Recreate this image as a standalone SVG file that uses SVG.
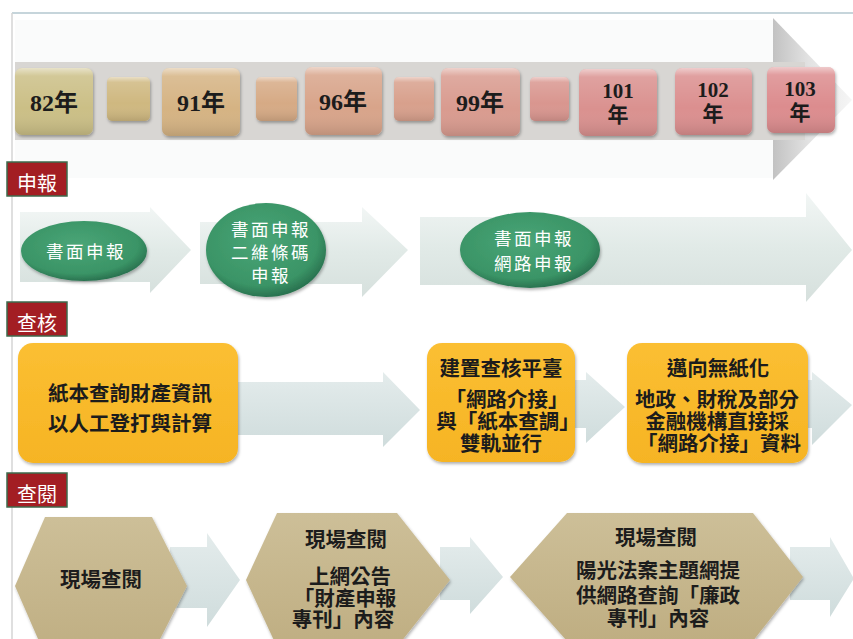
<svg xmlns="http://www.w3.org/2000/svg" width="853" height="639" viewBox="0 0 853 639">
<defs>
<style>
.yr{font-family:"Liberation Serif","Noto Sans CJK TC",serif;font-weight:bold;fill:#1c1c1c;text-anchor:middle}
.sect{font-family:"Noto Sans CJK TC","Noto Sans",sans-serif;font-size:20px;fill:#ffffff;text-anchor:middle}
.secbox{fill:#a31e23;stroke:#3d6b4c;stroke-width:1.5}
.et{font-family:"Noto Sans CJK TC",sans-serif;font-size:17.5px;letter-spacing:2.5px;fill:#ffffff;text-anchor:middle}
.bt{font-family:"Liberation Serif","Noto Sans CJK TC",serif;font-weight:bold;font-size:20.5px;fill:#1c1c1c;text-anchor:middle}
.gloss{fill:url(#gloss)}
.ybox{fill:url(#gy);filter:url(#sh)}
.hex{fill:url(#gh);filter:url(#sh)}
.ell{fill:url(#ge);filter:url(#sh)}
.a2{fill:url(#ga2)}
.a3{fill:url(#ga3)}
</style>
<linearGradient id="gloss" x1="0" y1="0" x2="0" y2="1">
<stop offset="0" stop-color="#ffffff" stop-opacity="0.55"/>
<stop offset="0.12" stop-color="#ffffff" stop-opacity="0.15"/>
<stop offset="0.6" stop-color="#ffffff" stop-opacity="0"/>
<stop offset="1" stop-color="#000000" stop-opacity="0.12"/>
</linearGradient>
<linearGradient id="gy" x1="0" y1="0" x2="0" y2="1">
<stop offset="0" stop-color="#fbbf32"/>
<stop offset="1" stop-color="#f6b424"/>
</linearGradient>
<linearGradient id="gh" x1="0" y1="0" x2="0" y2="1">
<stop offset="0" stop-color="#cdbf98"/>
<stop offset="1" stop-color="#bfae82"/>
</linearGradient>
<radialGradient id="ge" cx="0.45" cy="0.4" r="0.6">
<stop offset="0" stop-color="#4aa577"/>
<stop offset="0.8" stop-color="#3a9466"/>
<stop offset="1" stop-color="#2a7350"/>
</radialGradient>
<linearGradient id="ghead" x1="0" y1="0" x2="1" y2="0">
<stop offset="0" stop-color="#c2c2c2"/>
<stop offset="0.45" stop-color="#e2e2e2"/>
<stop offset="1" stop-color="#f6f6f6"/>
</linearGradient>
<linearGradient id="ga2" x1="0" y1="0" x2="0" y2="1">
<stop offset="0" stop-color="#f2f6f5"/>
<stop offset="0.5" stop-color="#e1eae7"/>
<stop offset="1" stop-color="#d6e0dd"/>
</linearGradient>
<linearGradient id="ga3" x1="0" y1="0" x2="0" y2="1">
<stop offset="0" stop-color="#e4ecec"/>
<stop offset="1" stop-color="#cfdcdc"/>
</linearGradient>
<filter id="sh" x="-10%" y="-10%" width="125%" height="130%">
<feDropShadow dx="1" dy="2" stdDeviation="1.5" flood-color="#000" flood-opacity="0.3"/>
</filter>
</defs>

<rect x="0" y="0" width="853" height="639" fill="#ffffff"/>
<line x1="12" y1="13" x2="853" y2="13" stroke="#c6d5db" stroke-width="2"/>
<line x1="12" y1="13" x2="12" y2="639" stroke="#d4d4d4" stroke-width="1.5"/>

<g id="timeline">
<rect x="15" y="20" width="758" height="158" fill="#fafbfb"/>
<polygon points="773,18 852,100 773,180" fill="url(#ghead)"/>
<rect x="15" y="62" width="790" height="78" fill="#d8d6d3"/>
</g>

<g id="y82"><rect x="15" y="68" width="78" height="67" rx="7" fill="#cbbf86" filter="url(#sh)"/><rect x="15" y="68" width="78" height="67" rx="7" class="gloss"/><text class="yr" x="54" y="111" font-size="24">82年</text></g>
<g id="s1"><rect x="107" y="77" width="43" height="44" rx="5" fill="#cfb880" filter="url(#sh)"/><rect x="107" y="77" width="43" height="44" rx="5" class="gloss"/></g>
<g id="y91"><rect x="162" y="68" width="78" height="68" rx="7" fill="#d5b383" filter="url(#sh)"/><rect x="162" y="68" width="78" height="68" rx="7" class="gloss"/><text class="yr" x="201" y="111" font-size="24">91年</text></g>
<g id="s2"><rect x="256" y="77" width="41" height="44" rx="5" fill="#d6aa85" filter="url(#sh)"/><rect x="256" y="77" width="41" height="44" rx="5" class="gloss"/></g>
<g id="y96"><rect x="305" y="67" width="77" height="68" rx="7" fill="#d8a48a" filter="url(#sh)"/><rect x="305" y="67" width="77" height="68" rx="7" class="gloss"/><text class="yr" x="343" y="110" font-size="24">96年</text></g>
<g id="s3"><rect x="394" y="77" width="40" height="44" rx="5" fill="#d8a08c" filter="url(#sh)"/><rect x="394" y="77" width="40" height="44" rx="5" class="gloss"/></g>
<g id="y99"><rect x="441" y="68" width="79" height="68" rx="7" fill="#d99b8f" filter="url(#sh)"/><rect x="441" y="68" width="79" height="68" rx="7" class="gloss"/><text class="yr" x="480" y="111" font-size="24">99年</text></g>
<g id="s4"><rect x="530" y="77" width="39" height="44" rx="5" fill="#d9968f" filter="url(#sh)"/><rect x="530" y="77" width="39" height="44" rx="5" class="gloss"/></g>
<g id="y101"><rect x="579" y="69" width="78" height="67" rx="7" fill="#da918f" filter="url(#sh)"/><rect x="579" y="69" width="78" height="67" rx="7" class="gloss"/><text class="yr" x="618" y="98" font-size="21">101</text><text class="yr" x="618" y="122" font-size="21">年</text></g>
<g id="y102"><rect x="675" y="68" width="77" height="67" rx="7" fill="#db8f8f" filter="url(#sh)"/><rect x="675" y="68" width="77" height="67" rx="7" class="gloss"/><text class="yr" x="713" y="97" font-size="21">102</text><text class="yr" x="713" y="121" font-size="21">年</text></g>
<g id="y103"><rect x="767" y="67" width="68" height="66" rx="7" fill="#dc8c8e" filter="url(#sh)"/><rect x="767" y="67" width="68" height="66" rx="7" class="gloss"/><text class="yr" x="800" y="96" font-size="21">103</text><text class="yr" x="800" y="120" font-size="21">年</text></g>

<g id="sec1"><rect class="secbox" x="7" y="162" width="60" height="34"/><text class="sect" x="37" y="191">申報</text></g>
<g id="sec2"><rect class="secbox" x="7" y="302" width="60" height="34"/><text class="sect" x="37" y="331">查核</text></g>
<g id="sec3"><rect class="secbox" x="7" y="473" width="60" height="34"/><text class="sect" x="37" y="502">查閱</text></g>

<g id="connectors">
<polygon class="a2" points="20,212 150,212 150,207 191,250 150,293 150,282 20,282"/>
<polygon class="a2" points="200,222 362,222 362,207 408,250 362,297 362,284 200,284"/>
<polygon class="a2" points="420,217 806,217 806,193 852,250 806,302 806,285 420,285"/>
<polygon class="a3" points="230,382 383,382 383,372 420,410 383,447 383,435 230,435"/>
<polygon class="a3" points="570,380 586,380 586,372 625,407 586,443 586,428 570,428"/>
<polygon class="a3" points="800,380 812,380 812,372 852,405 812,445 812,428 800,428"/>
<polygon class="a3" points="170,547 207,547 207,533 240,580 207,627 207,608 170,608"/>
<polygon class="a3" points="440,547 470,547 470,537 503,577 470,614 470,600 440,600"/>
<polygon class="a3" points="790,547 830,547 830,537 853,577 853,580 830,617 830,600 790,600"/>
</g>

<g id="e1"><ellipse class="ell" cx="84" cy="251" rx="63" ry="30"/><text class="et" x="86" y="258">書面申報</text></g>
<g id="e2"><ellipse class="ell" cx="266" cy="250" rx="60" ry="47"/><text class="et" x="271" y="236">書面申報</text><text class="et" x="271" y="259">二維條碼</text><text class="et" x="271" y="282">申報</text></g>
<g id="e3"><ellipse class="ell" cx="530" cy="250" rx="70" ry="38"/><text class="et" x="534" y="245">書面申報</text><text class="et" x="534" y="270">網路申報</text></g>

<g id="b1"><rect class="ybox" x="18" y="343" width="220" height="120" rx="15"/><text class="bt" x="130" y="401">紙本查詢財產資訊</text><text class="bt" x="130" y="431">以人工登打與計算</text></g>
<g id="b2"><rect class="ybox" x="427" y="343" width="148" height="119" rx="15"/><text class="bt" x="501" y="376">建置查核平臺</text><text class="bt" x="507" y="407">「網路介接」</text><text class="bt" x="508" y="429">與「紙本查調」</text><text class="bt" x="501" y="451">雙軌並行</text></g>
<g id="b3"><rect class="ybox" x="627" y="343" width="181" height="120" rx="15"/><text class="bt" x="718" y="376">邁向無紙化</text><text class="bt" x="717" y="407">地政、財稅及部分</text><text class="bt" x="717" y="429">金融機構直接採</text><text class="bt" x="719" y="451">「網路介接」資料</text></g>

<g id="h1"><polygon class="hex" points="45,517 152,517 187,586 152,655 45,655 15,586"/><text class="bt" x="101" y="587">現場查閱</text></g>
<g id="h2"><polygon class="hex" points="277,513 397,513 450,580 397,647 277,647 246,580"/><text class="bt" x="346" y="547">現場查閱</text><text class="bt" x="350" y="584">上網公告</text><text class="bt" x="345" y="606">「財產申報</text><text class="bt" x="343" y="627">專刊」內容</text></g>
<g id="h3"><polygon class="hex" points="567,513 753,513 803,577 753,641 567,641 510,577"/><text class="bt" x="656" y="545">現場查閱</text><text class="bt" x="658" y="578">陽光法案主題網提</text><text class="bt" x="658" y="603">供網路查詢「廉政</text><text class="bt" x="658" y="626">專刊」內容</text></g>
</svg>
